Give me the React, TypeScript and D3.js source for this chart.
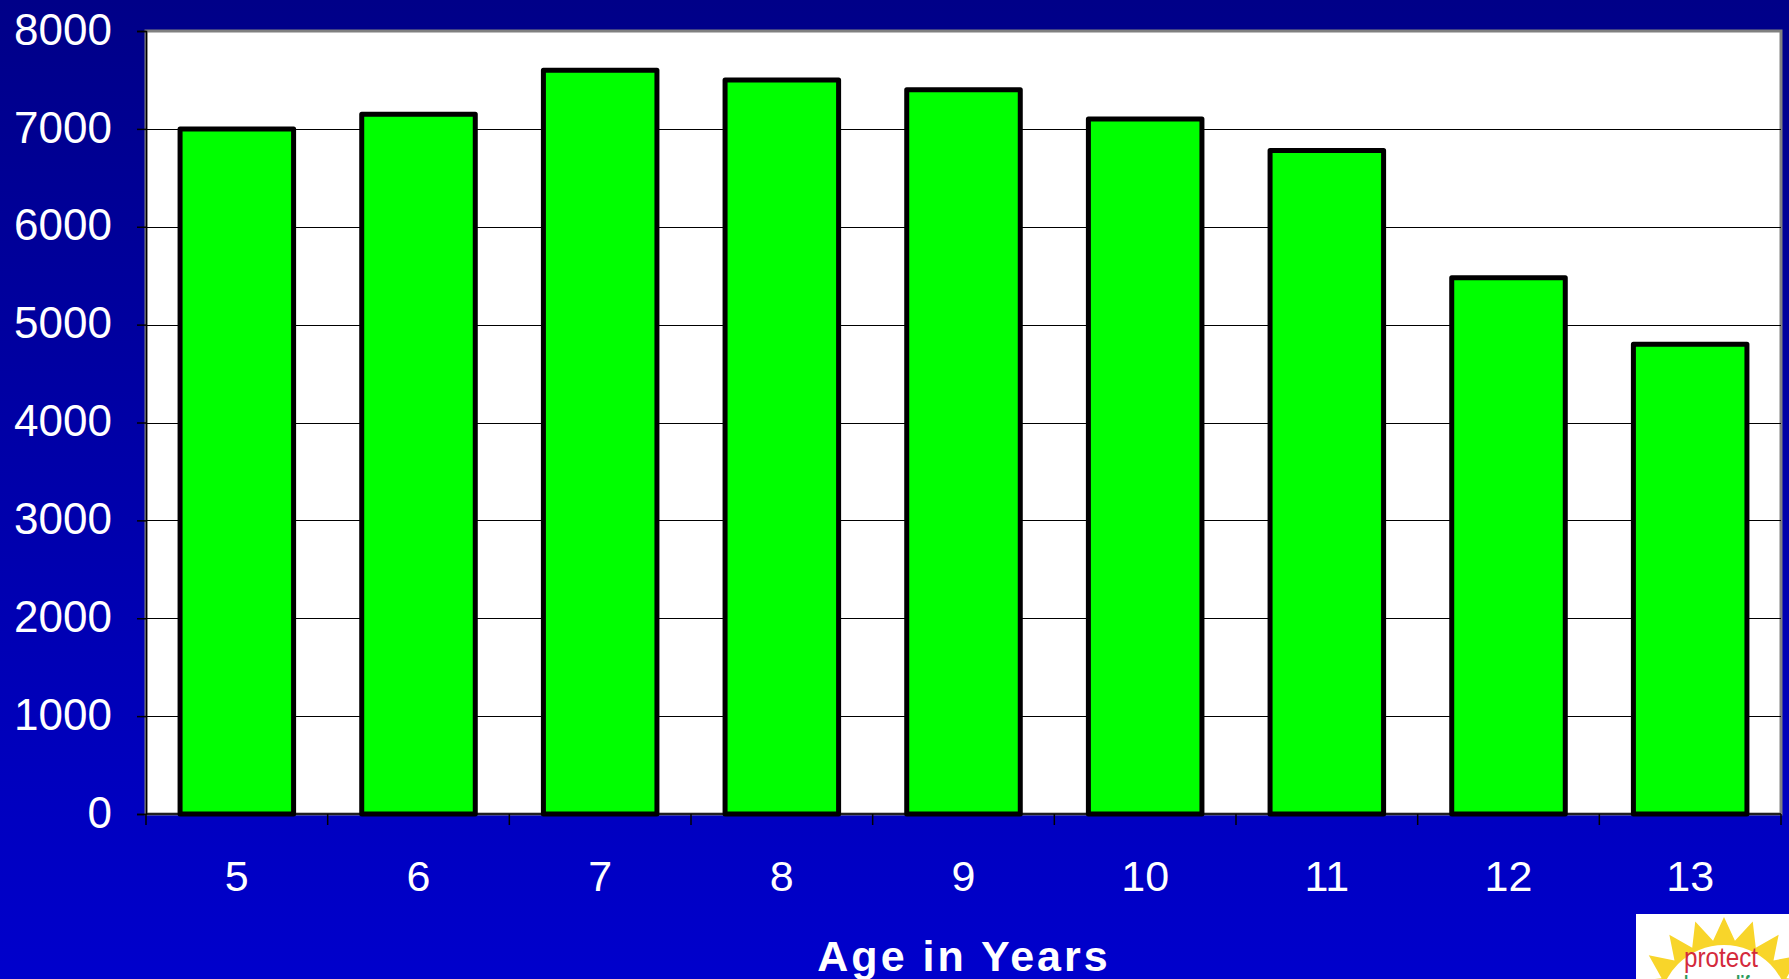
import * as d3 from "d3";
import { useRef, useEffect } from "react";

const ages = ["5", "6", "7", "8", "9", "10", "11", "12", "13"];
const counts = [7000, 7150, 7600, 7500, 7400, 7100, 6780, 5480, 4800];
const yTicks = [0, 1000, 2000, 3000, 4000, 5000, 6000, 7000, 8000];

const width = 1789;
const height = 979;

export default function App() {
  const svgRef = useRef<SVGSVGElement | null>(null);

  useEffect(() => {
    const left = 146;
    const right = 1781;
    const top = 31;
    const bottom = 814;

    const x = d3.scaleBand().domain(ages).range([left, right]).paddingInner(0.375).paddingOuter(0.1875);
    const xEdge = d3.scaleBand().domain(ages).range([left, right]);
    const y = d3.scaleLinear().domain([0, 8000]).range([bottom, top]);

    const svg = d3.select(svgRef.current);
    svg.selectAll("*").remove();

    // background gradient
    const defs = svg.append("defs");
    const grad = defs
      .append("linearGradient")
      .attr("id", "bg")
      .attr("x1", 0)
      .attr("y1", 0)
      .attr("x2", 0)
      .attr("y2", 1);
    grad.append("stop").attr("offset", "0%").attr("stop-color", "#000088");
    grad.append("stop").attr("offset", "100%").attr("stop-color", "#0000cc");

    svg.append("rect").attr("width", width).attr("height", height).attr("fill", "url(#bg)");

    // plot area
    svg
      .append("rect")
      .attr("x", left)
      .attr("y", top)
      .attr("width", right - left)
      .attr("height", bottom - top)
      .attr("fill", "#ffffff")
      .attr("stroke", "#808080")
      .attr("stroke-width", 3);

    // gridlines
    svg
      .append("g")
      .selectAll("line")
      .data(yTicks.filter((d) => d > 0 && d < 8000))
      .join("line")
      .attr("x1", left)
      .attr("x2", right)
      .attr("y1", (d) => Math.round(y(d)) + 0.5)
      .attr("y2", (d) => Math.round(y(d)) + 0.5)
      .attr("stroke", "#000")
      .attr("stroke-width", 1.2);

    // bars
    svg
      .append("g")
      .selectAll("rect")
      .data(counts)
      .join("rect")
      .attr("x", (_, i) => x(ages[i]) as number)
      .attr("y", (d) => y(d))
      .attr("width", x.bandwidth())
      .attr("height", (d) => bottom - y(d))
      .attr("fill", "#00ff00")
      .attr("stroke", "#000")
      .attr("stroke-width", 5)
      .attr("stroke-linejoin", "round");

    // y axis
    const yAxis = svg.append("g").attr("transform", `translate(${left},0)`);
    yAxis
      .call(d3.axisLeft(y).tickValues(yTicks).tickSize(9).tickFormat(d3.format("d")))
      .call((g) => g.select(".domain").attr("stroke", "#000").attr("stroke-width", 1.5))
      .call((g) => g.selectAll(".tick line").attr("stroke", "#000").attr("stroke-width", 1.5))
      .call((g) =>
        g
          .selectAll(".tick text")
          .attr("x", -34)
          .attr("dy", "0.3em")
          .attr("fill", "#fff")
          .attr("font-family", "Liberation Sans, Arial, sans-serif")
          .attr("font-size", 44)
      );

    // x axis ticks at category edges
    const xAxis = svg.append("g");
    xAxis
      .append("line")
      .attr("x1", left)
      .attr("x2", right)
      .attr("y1", bottom)
      .attr("y2", bottom)
      .attr("stroke", "#000")
      .attr("stroke-width", 1.5);
    const edges = ages.map((a) => xEdge(a) as number).concat([right]);
    xAxis
      .selectAll("line.edge")
      .data(edges)
      .join("line")
      .attr("class", "edge")
      .attr("x1", (d) => d)
      .attr("x2", (d) => d)
      .attr("y1", bottom)
      .attr("y2", bottom + 11)
      .attr("stroke", "#000")
      .attr("stroke-width", 1.5);
    xAxis
      .selectAll("text")
      .data(ages)
      .join("text")
      .attr("x", (d) => (x(d) as number) + x.bandwidth() / 2)
      .attr("y", 891)
      .attr("text-anchor", "middle")
      .attr("fill", "#fff")
      .attr("font-family", "Liberation Sans, Arial, sans-serif")
      .attr("font-size", 43)
      .text((d) => d);

    // axis title
    svg
      .append("text")
      .attr("x", 964)
      .attr("y", 971)
      .attr("text-anchor", "middle")
      .attr("fill", "#fff")
      .attr("font-family", "Liberation Sans, Arial, sans-serif")
      .attr("font-weight", "bold")
      .attr("font-size", 43)
      .attr("letter-spacing", 3)
      .text("Age in Years");

    // logo in the corner
    const logo = svg.append("g");
    logo.append("rect").attr("x", 1636).attr("y", 914).attr("width", 153).attr("height", 65).attr("fill", "#fff");
    const cx = 1724;
    const cy = 1010;
    const rays = 20;
    const pts: [number, number][] = [];
    for (let k = 0; k < rays * 2; k++) {
      const a = (k / (rays * 2)) * Math.PI * 2 - Math.PI / 2;
      const r = k % 2 === 0 ? 93 : 70;
      pts.push([cx + r * Math.cos(a), cy + r * Math.sin(a)]);
    }
    logo
      .append("clipPath")
      .attr("id", "logoclip")
      .append("rect")
      .attr("x", 1636)
      .attr("y", 914)
      .attr("width", 153)
      .attr("height", 65);
    const inner = logo.append("g").attr("clip-path", "url(#logoclip)");
    inner.append("polygon").attr("points", pts.map((p) => p.join(",")).join(" ")).attr("fill", "#f8d52a");
    inner.append("circle").attr("cx", cx).attr("cy", cy).attr("r", 65).attr("fill", "#fff");
    inner
      .append("text")
      .attr("x", 1684)
      .attr("y", 967)
      .attr("textLength", 74)
      .attr("lengthAdjust", "spacingAndGlyphs")
      .attr("fill", "#d42a3c")
      .attr("font-family", "Liberation Sans, Arial, sans-serif")
      .attr("font-size", 28)
      .text("protect");
    inner
      .append("text")
      .attr("x", 1684)
      .attr("y", 994)
      .attr("textLength", 74)
      .attr("lengthAdjust", "spacingAndGlyphs")
      .attr("fill", "#2a9a5a")
      .attr("font-family", "Liberation Sans, Arial, sans-serif")
      .attr("font-weight", "bold")
      .attr("font-size", 26)
      .text("have a life");
  }, []);

  return (
    <div style={{ position: "fixed", left: 0, top: 0 }}>
      <svg ref={svgRef} width={width} height={height} style={{ display: "block" }}></svg>
    </div>
  );
}
